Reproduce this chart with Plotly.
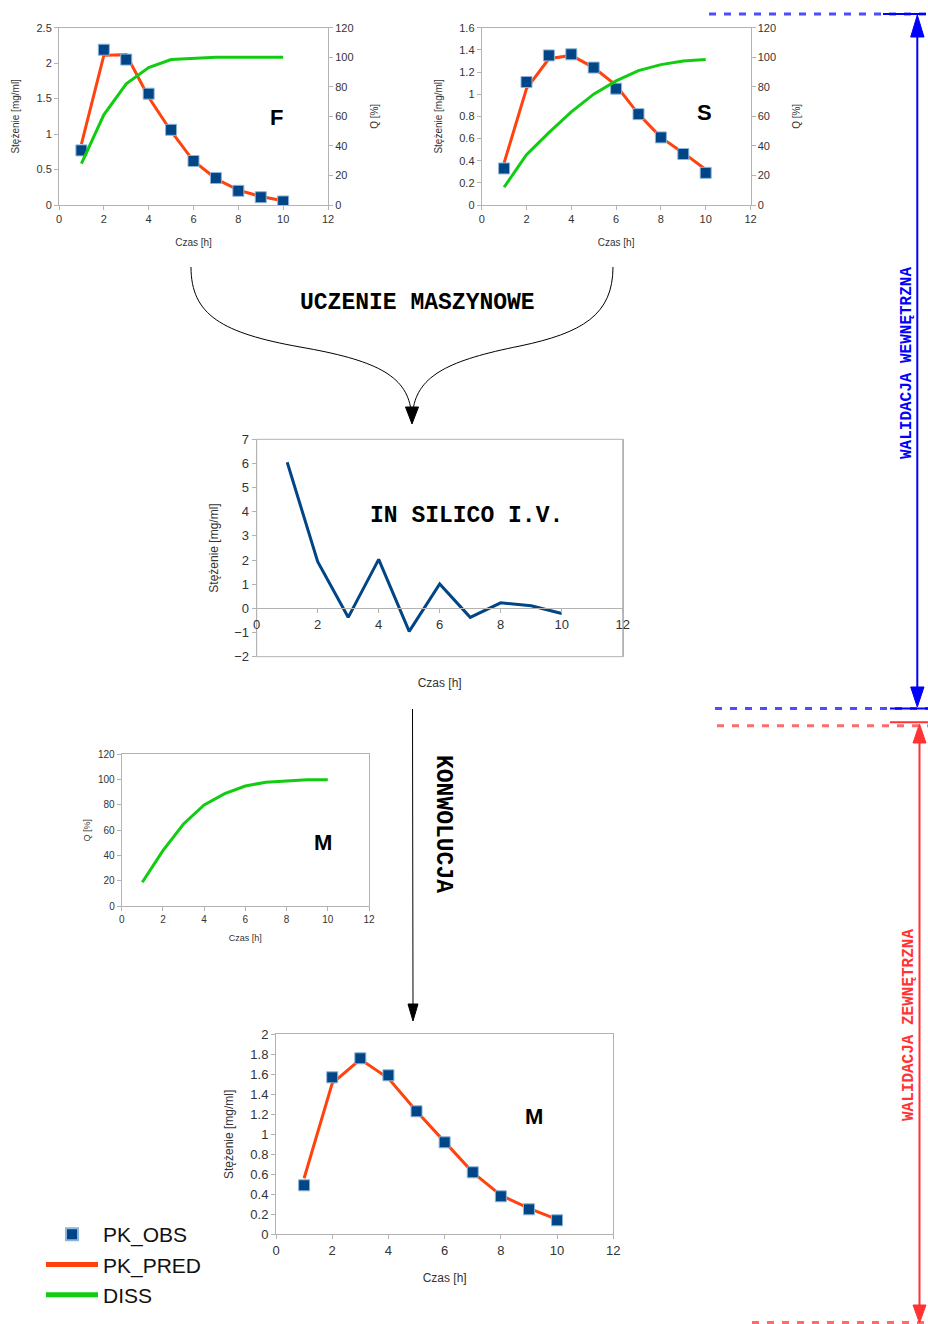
import plotly.graph_objects as go

W, H = 928, 1324

# ---------------- data ----------------
hours = [1, 2, 3, 4, 5, 6, 7, 8, 9, 10]

F_pk_obs = [0.77, 2.19, 2.05, 1.57, 1.06, 0.62, 0.38, 0.20, 0.11, 0.05]
F_pk_pred = [0.86, 2.11, 2.12, 1.52, 1.04, 0.62, 0.37, 0.21, 0.12, 0.06]
F_diss = [28, 61, 82, 93, 98.5, 99.5, 100, 100, 100, 100]

S_pk_obs = [0.33, 1.11, 1.35, 1.36, 1.24, 1.05, 0.82, 0.61, 0.46, 0.29]
S_pk_pred = [0.38, 1.05, 1.32, 1.35, 1.24, 1.08, 0.82, 0.61, 0.47, 0.32]
S_diss = [12, 34, 49, 63, 75, 84, 91, 95, 97.5, 98.5]

IV_conc = [6.05, 1.93, -0.37, 2.03, -0.95, 1.01, -0.37, 0.23, 0.11, -0.21]

M_diss = [19, 44, 65, 80, 89, 95, 98, 99, 100, 100]
M_pk_obs = [0.49, 1.57, 1.76, 1.59, 1.23, 0.92, 0.62, 0.38, 0.25, 0.14]
M_pk_pred = [0.56, 1.51, 1.75, 1.56, 1.23, 0.92, 0.62, 0.39, 0.26, 0.15]

# ---------------- styles ----------------
C_OBS = "#004586"
C_PRED = "#ff420e"
C_DISS = "#11cc11"
C_IV = "#004586"
AX = "#b3b3b3"
TXT = "#333333"
SANS = "Liberation Sans"
MONO = "Liberation Mono"


def px(x):
    return x / W


def py(y):
    return 1 - y / H


def dom_x(a, b):
    return [px(a), px(b)]


def dom_y(top, bottom):
    return [py(bottom), py(top)]


def axis(size, **kw):
    d = dict(showline=True, linecolor=AX, linewidth=1, ticks="outside",
             tickcolor=AX, ticklen=4, showgrid=False, zeroline=False, automargin=False,
             tickfont=dict(family=SANS, size=size, color=TXT))
    d.update(kw)
    return d


def title(text, size, standoff):
    return dict(text=text, font=dict(family=SANS, size=size, color=TXT), standoff=standoff)


MK = dict(symbol="square", size=11, color=C_OBS, line=dict(width=1, color="#8fb4d9"))

fig = go.Figure()

# ---- F ----
fig.add_trace(go.Scatter(x=hours, y=F_pk_pred, mode="lines", line=dict(color=C_PRED, width=3),
                         xaxis="x", yaxis="y", showlegend=False))
fig.add_trace(go.Scatter(x=hours, y=F_diss, mode="lines", line=dict(color=C_DISS, width=3),
                         xaxis="x", yaxis="y2", showlegend=False))
fig.add_trace(go.Scatter(x=hours, y=F_pk_obs, mode="markers", marker=MK,
                         xaxis="x", yaxis="y", showlegend=False))
# ---- S ----
fig.add_trace(go.Scatter(x=hours, y=S_pk_pred, mode="lines", line=dict(color=C_PRED, width=3),
                         xaxis="x2", yaxis="y3", showlegend=False))
fig.add_trace(go.Scatter(x=hours, y=S_diss, mode="lines", line=dict(color=C_DISS, width=3),
                         xaxis="x2", yaxis="y4", showlegend=False))
fig.add_trace(go.Scatter(x=hours, y=S_pk_obs, mode="markers", marker=MK,
                         xaxis="x2", yaxis="y3", showlegend=False))
# ---- in silico IV ----
fig.add_trace(go.Scatter(x=hours, y=IV_conc, mode="lines", line=dict(color=C_IV, width=3),
                         xaxis="x3", yaxis="y5", showlegend=False))
# ---- M dissolution ----
fig.add_trace(go.Scatter(x=hours, y=M_diss, mode="lines", line=dict(color=C_DISS, width=3),
                         xaxis="x4", yaxis="y6", name="DISS", legendrank=3, legendgroup="c"))
# ---- M PK ----
fig.add_trace(go.Scatter(x=hours, y=M_pk_pred, mode="lines", line=dict(color=C_PRED, width=3),
                         xaxis="x5", yaxis="y7", name="PK_PRED", legendrank=2, legendgroup="b"))
fig.add_trace(go.Scatter(x=hours, y=M_pk_obs, mode="markers", marker=MK,
                         xaxis="x5", yaxis="y7", name="PK_OBS", legendrank=1, legendgroup="a"))

# IV chart geometry (x-axis crosses at y = 0)
iv_top, iv_bottom = 439.3, 656.7
iv_range = [-2, 7]
iv_dom = dom_y(iv_top, iv_bottom)
iv_x_pos = iv_dom[0] + (0 - iv_range[0]) / (iv_range[1] - iv_range[0]) * (iv_dom[1] - iv_dom[0])

fig.update_layout(
    width=W, height=H,
    margin=dict(l=0, r=0, t=0, b=0, autoexpand=False),
    paper_bgcolor="white", plot_bgcolor="rgba(0,0,0,0)",
    font=dict(family=SANS, color=TXT),
    # F
    xaxis=axis(11, domain=dom_x(59, 328), range=[0, 12], dtick=2, anchor="y", mirror=True,
               title=title("Czas [h]", 10, 14)),
    yaxis=axis(11, domain=dom_y(27.7, 205), range=[0, 2.5], dtick=0.5, anchor="x",
               title=title("Stężenie [mg/ml]", 10, 14)),
    yaxis2=axis(11, overlaying="y", side="right", anchor="x", range=[0, 120], dtick=20,
                title=title("Q [%]", 10, 18)),
    # S
    xaxis2=axis(11, domain=dom_x(481.7, 750.5), range=[0, 12], dtick=2, anchor="y3", mirror=True,
                title=title("Czas [h]", 10, 14)),
    yaxis3=axis(11, domain=dom_y(27.7, 205), range=[0, 1.6], dtick=0.2, anchor="x2",
                title=title("Stężenie [mg/ml]", 10, 14)),
    yaxis4=axis(11, overlaying="y3", side="right", anchor="x2", range=[0, 120], dtick=20,
                title=title("Q [%]", 10, 17)),
    # IV
    xaxis3=axis(13, domain=dom_x(256.7, 622.7), range=[0, 12], dtick=2, anchor="free",
                position=iv_x_pos, title=title("Czas [h]", 12, 47)),
    yaxis5=axis(13, domain=iv_dom, range=iv_range, dtick=1, anchor="x3", mirror=True,
                title=title("Stężenie [mg/ml]", 12, 13)),
    # M dissolution
    xaxis4=axis(10, domain=dom_x(121.7, 369), range=[0, 12], dtick=2, anchor="y6", mirror=True,
                title=title("Czas [h]", 9, 10)),
    yaxis6=axis(10, domain=dom_y(754.3, 906.3), range=[0, 120], dtick=20, anchor="x4", mirror=True,
                title=title("Q [%]", 9, 5)),
    # M PK
    xaxis5=axis(13, domain=dom_x(276, 613.3), range=[0, 12], dtick=2, anchor="y7", mirror=True,
                title=title("Czas [h]", 12, 16)),
    yaxis7=axis(13, domain=dom_y(1034.3, 1234.3), range=[0, 2], dtick=0.2, anchor="x5", mirror=True,
                title=title("Stężenie [mg/ml]", 12, 14)),
    legend=dict(x=px(41), y=py(1214), xanchor="left", yanchor="top",
                font=dict(family=SANS, size=21, color="#111111"),
                bgcolor="rgba(0,0,0,0)", tracegroupgap=0, traceorder="grouped",
                itemsizing="constant", itemwidth=52),
)

# frame of the IV chart
shapes = [dict(type="rect", xref="x3 domain", yref="y5 domain", x0=0, x1=1, y0=0, y1=1,
               line=dict(color=AX, width=1), layer="below")]


def path(pts):
    s = ""
    for p in pts:
        cmd, coords = p[0], p[1:]
        conv = []
        for i in range(0, len(coords), 2):
            conv.append(f"{px(coords[i]):.5f},{py(coords[i + 1]):.5f}")
        s += cmd + " " + " ".join(conv) + " "
    return s.strip()


def line(x0, y0, x1, y1, color, width, dash="solid"):
    return dict(type="line", xref="paper", yref="paper", x0=px(x0), y0=py(y0), x1=px(x1), y1=py(y1),
                line=dict(color=color, width=width, dash=dash))


def tri(pts, color):
    return dict(type="path", xref="paper", yref="paper",
                path=path([("M",) + pts[0], ("L",) + pts[1], ("L",) + pts[2], ("Z",)]),
                fillcolor=color, line=dict(color=color, width=1))


# curved arrows (machine learning)
shapes.append(dict(type="path", xref="paper", yref="paper",
                   path=path([("M", 191, 267), ("C", 191, 315, 222, 333, 300, 347),
                              ("C", 375, 360, 406, 375, 411, 410)]),
                   line=dict(color="black", width=1)))
shapes.append(dict(type="path", xref="paper", yref="paper",
                   path=path([("M", 613, 267), ("C", 613, 315, 582, 333, 520, 346),
                              ("C", 450, 360, 418, 375, 413, 410)]),
                   line=dict(color="black", width=1)))
shapes.append(tri([(405.5, 407), (418.5, 407), (412, 424)], "black"))
# convolution arrow
shapes.append(line(412.5, 709, 413, 1006, "black", 1))
shapes.append(tri([(408, 1004), (418, 1004), (413, 1021)], "black"))

# internal validation (blue)
BLUE = "#0000ff"
BLUE_D = "#4d4dff"
shapes.append(line(709, 14, 928, 14, BLUE_D, 3, "7px,8px"))
shapes.append(line(715, 708.5, 928, 708.5, BLUE_D, 3, "7px,8px"))
shapes.append(line(883, 14, 926, 14, BLUE, 2))
shapes.append(line(890, 708.5, 928, 708.5, BLUE, 2))
shapes.append(line(917.3, 30, 917.3, 692, BLUE, 2))
shapes.append(tri([(910.7, 37), (924, 37), (917.3, 15)], BLUE))
shapes.append(tri([(910.7, 687), (924, 687), (917.3, 707)], BLUE))

# external validation (red)
RED = "#ff3333"
RED_D = "#ff6b6b"
shapes.append(line(717, 725.7, 928, 725.7, RED_D, 3, "7px,8px"))
shapes.append(line(752, 1322.5, 926, 1322.5, RED_D, 3, "7px,8px"))
shapes.append(line(890, 722.3, 928, 722.3, RED, 2))
shapes.append(line(919.5, 738, 919.5, 1308, RED, 2))
shapes.append(tri([(913, 743), (926, 743), (919.5, 724)], RED))
shapes.append(tri([(913, 1305), (926, 1305), (919.5, 1323)], RED))

fig.update_layout(shapes=shapes)

ann = []


def text(x, y, t, size, family=SANS, color="black", angle=0, bold=True):
    ann.append(dict(x=px(x), y=py(y), xref="paper", yref="paper", text=t, showarrow=False,
                    textangle=angle, xanchor="center", yanchor="middle",
                    font=dict(family=family, size=size, color=color, weight="bold" if bold else "normal")))


text(276, 118, "F", 22)
text(704, 113, "S", 22)
text(323, 842, "M", 22)
text(534, 1116, "M", 22)
text(417, 303, "UCZENIE MASZYNOWE", 23, MONO)
text(466, 516, "IN SILICO I.V.", 23, MONO)
text(443, 824, "KONWOLUCJA", 23, MONO, angle=90)
text(907, 363, "WALIDACJA WEWNĘTRZNA", 16, MONO, color=BLUE, angle=-90)
text(909, 1025, "WALIDACJA ZEWNĘTRZNA", 16, MONO, color=RED, angle=-90)

fig.update_layout(annotations=ann)

fig.write_html("out.html")
